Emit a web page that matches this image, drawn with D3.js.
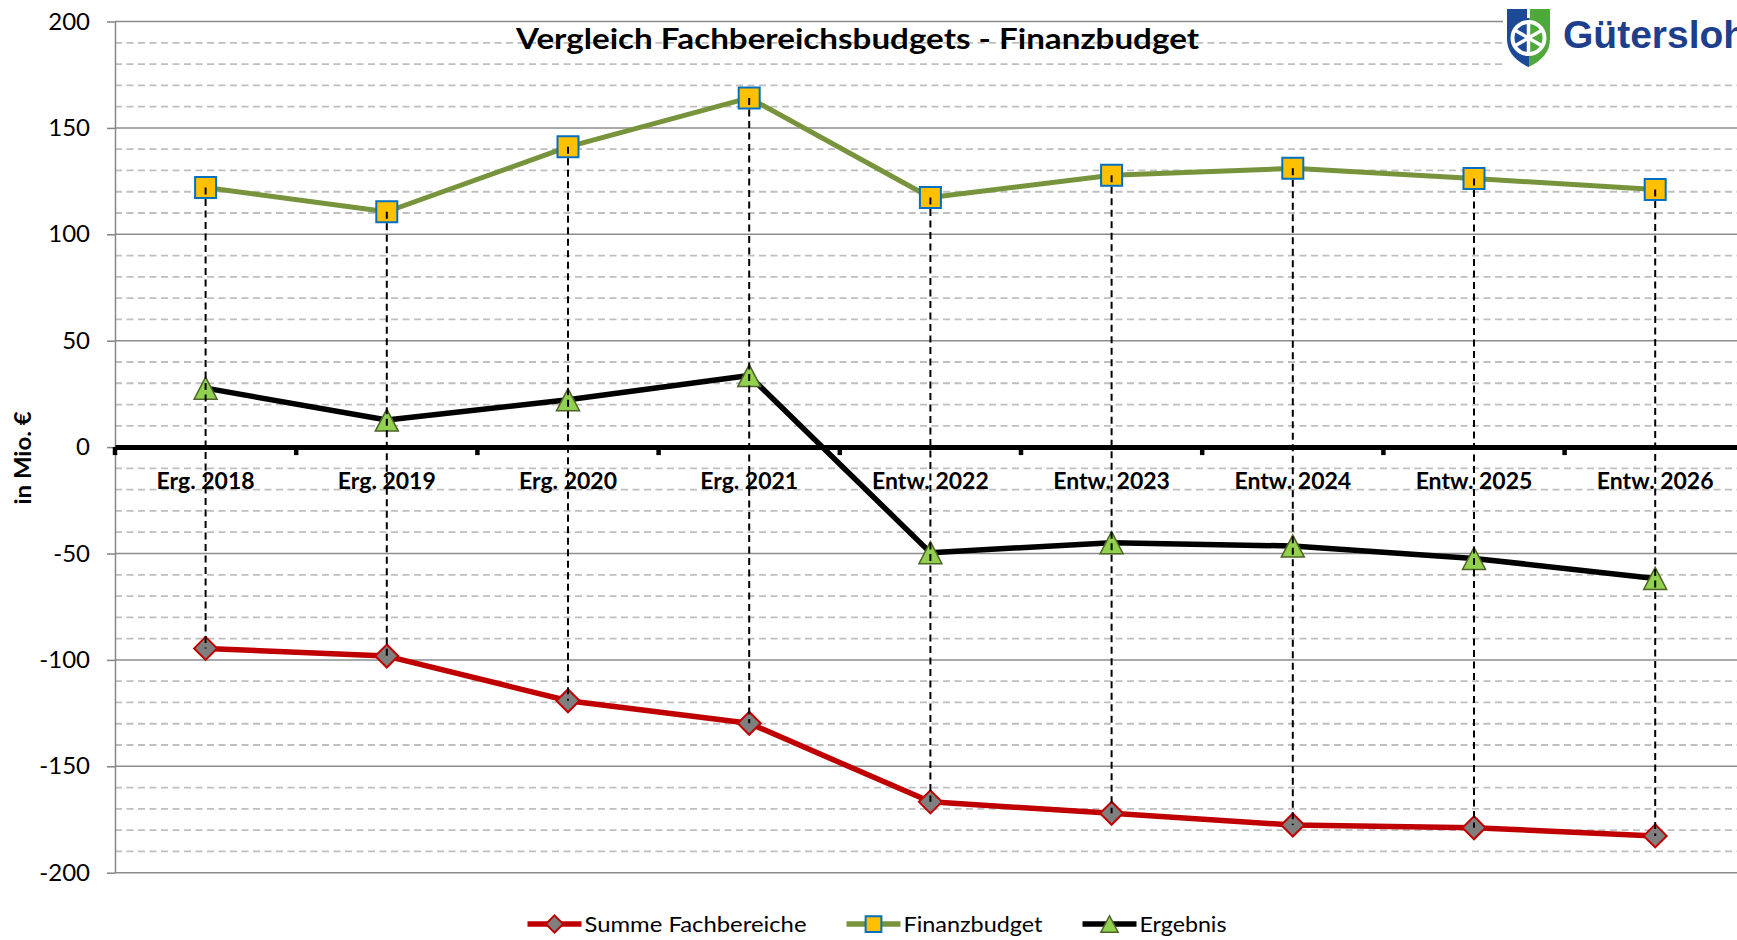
<!DOCTYPE html>
<html>
<head>
<meta charset="utf-8">
<script src="https://cdn.jsdelivr.net/npm/d3@7"></script>
<style>
  body { margin: 0; background: #fff; }
  svg { display: block; font-family: Lato, 'Open Sans', sans-serif; }
</style>
</head>
<body>
<svg width="1737" height="940"></svg>
<script>
/* global d3 */

const categories = ['Erg. 2018', 'Erg. 2019', 'Erg. 2020', 'Erg. 2021', 'Entw. 2022', 'Entw. 2023', 'Entw. 2024', 'Entw. 2025', 'Entw. 2026']
const summeFachbereiche = [-94.6, -98.2, -119.2, -129.8, -166.7, -172.1, -177.6, -178.9, -182.7]
const finanzbudget = [122.0, 110.6, 141.1, 164.1, 117.3, 127.7, 131.0, 126.2, 121.0]
const ergebnis = [27.7, 12.7, 22.3, 33.6, -49.6, -44.9, -46.5, -52.3, -61.7]
const yTickValues = [200, 150, 100, 50, 0, -50, -100, -150, -200]
const titleText = 'Vergleich Fachbereichsbudgets - Finanzbudget'
const yAxisTitle = 'in Mio. €'

const svg = d3.select('svg')
const width = +svg.attr('width')

const plotLeft = 115
const plotTop = 21.5
const plotBottom = 872.7
const bandWidth = 181.2
const plotRight = plotLeft + bandWidth * categories.length

const xScale = d3.scaleBand()
  .domain(categories)
  .range([plotLeft, plotRight])
const xCenter = (c) => xScale(c) + xScale.bandwidth() / 2

const yScale = d3.scaleLinear()
  .domain([-200, 200])
  .range([plotBottom, plotTop])

const series = [
  { name: 'Summe Fachbereiche', values: summeFachbereiche, color: '#C00000', width: 5.5, marker: 'diamond' },
  { name: 'Finanzbudget', values: finanzbudget, color: '#77933C', width: 5, marker: 'square' },
  { name: 'Ergebnis', values: ergebnis, color: '#000000', width: 5.5, marker: 'triangle' }
]

// gridlines
const minorTicks = d3.range(-190, 200, 10).filter(v => v % 50 !== 0)
svg.append('g').selectAll('line').data(minorTicks).join('line')
  .attr('x1', plotLeft).attr('x2', plotRight)
  .attr('y1', d => yScale(d)).attr('y2', d => yScale(d))
  .attr('stroke', '#bfbfbf')
  .attr('stroke-width', 1.8)
  .attr('stroke-dasharray', '7,4.5')

svg.append('g').selectAll('line').data(yTickValues.filter(v => v !== 0)).join('line')
  .attr('x1', plotLeft).attr('x2', plotRight)
  .attr('y1', d => yScale(d)).attr('y2', d => yScale(d))
  .attr('stroke', '#8c8c8c')
  .attr('stroke-width', 1.5)

// y axis
const yAxis = d3.axisLeft(yScale)
  .tickValues(yTickValues)
  .tickFormat(d => String(d))
  .tickSize(8)
  .tickSizeOuter(0)
  .tickPadding(17)

svg.append('g')
  .attr('transform', `translate(${plotLeft},0)`)
  .call(yAxis)
  .call(g => g.select('.domain').attr('stroke', '#868686').attr('stroke-width', 1.5))
  .call(g => g.selectAll('.tick line').attr('stroke', '#868686').attr('stroke-width', 1.5))
  .call(g => g.selectAll('.tick text')
    .attr('font-family', 'Lato, sans-serif')
    .attr('font-size', 24)
    .attr('fill', '#000'))

svg.append('text')
  .attr('transform', `translate(31, 458) rotate(-90)`)
  .attr('text-anchor', 'middle')
  .attr('font-weight', 700)
  .attr('font-size', 23)
  .attr('textLength', 93)
  .attr('lengthAdjust', 'spacingAndGlyphs')
  .text(yAxisTitle)

// category axis on the zero line
const xAxis = d3.axisBottom(xScale)
  .tickSize(0)
  .tickSizeOuter(0)
  .tickPadding(25.5)

svg.append('g')
  .attr('transform', `translate(0,${yScale(0)})`)
  .call(xAxis)
  .call(g => g.select('.domain').attr('stroke', '#000').attr('stroke-width', 5))
  .call(g => g.selectAll('.tick text')
    .attr('font-family', 'Lato, sans-serif')
    .attr('font-weight', 700)
    .attr('font-size', 23)
    .attr('fill', '#000'))

svg.append('g').selectAll('line').data(categories).join('line')
  .attr('x1', d => xScale(d)).attr('x2', d => xScale(d))
  .attr('y1', yScale(0)).attr('y2', yScale(0) + 8)
  .attr('stroke', '#000')
  .attr('stroke-width', 4.5)

// series
const markerPath = {
  diamond: 'M0,-11.5L11.5,0L0,11.5L-11.5,0Z',
  square: 'M-10.5,-10.5H10.5V10.5H-10.5Z',
  triangle: 'M0,-11L11.5,11L-11.5,11Z'
}
const markerStyle = {
  diamond: { fill: '#7F7F7F', stroke: '#C00000', sw: 2 },
  square: { fill: '#FFC000', stroke: '#0070C0', sw: 2 },
  triangle: { fill: '#92D050', stroke: '#4F6228', sw: 1.5 }
}

const line = d3.line()
  .x((d, i) => xCenter(categories[i]))
  .y(d => yScale(d))

series.forEach(s => {
  svg.append('path')
    .datum(s.values)
    .attr('fill', 'none')
    .attr('stroke', s.color)
    .attr('stroke-width', s.width)
    .attr('stroke-linejoin', 'round')
    .attr('d', line)

  const st = markerStyle[s.marker]
  svg.append('g').selectAll('path').data(s.values).join('path')
    .attr('transform', (d, i) => `translate(${xCenter(categories[i])},${yScale(d)})`)
    .attr('d', markerPath[s.marker])
    .attr('fill', st.fill)
    .attr('stroke', st.stroke)
    .attr('stroke-width', st.sw)
})

// high-low drop lines
const ranges = categories.map((c, i) => {
  const vals = series.map(s => s.values[i])
  return { c, hi: d3.max(vals), lo: d3.min(vals) }
})
svg.append('g').selectAll('line').data(ranges).join('line')
  .attr('x1', d => xCenter(d.c)).attr('x2', d => xCenter(d.c))
  .attr('y1', d => yScale(d.hi)).attr('y2', d => yScale(d.lo))
  .attr('stroke', '#000')
  .attr('stroke-width', 2)
  .attr('stroke-dasharray', '7,4.5')

// title
svg.append('text')
  .attr('x', 857.5)
  .attr('y', 49)
  .attr('text-anchor', 'middle')
  .attr('font-weight', 700)
  .attr('font-size', 29)
  .attr('textLength', 683)
  .attr('lengthAdjust', 'spacingAndGlyphs')
  .text(titleText)

// legend
const legend = svg.append('g')
const legendItems = legend.selectAll('g').data(series).join('g')
legendItems.append('text')
  .attr('x', 57)
  .attr('y', 932)
  .attr('font-size', 21)
  .attr('textLength', (d, i) => [222, 139, 87][i])
  .attr('lengthAdjust', 'spacingAndGlyphs')
  .text(d => d.name)
legendItems.append('line')
  .attr('x1', 0).attr('x2', 54)
  .attr('y1', 924).attr('y2', 924)
  .attr('stroke', d => d.color)
  .attr('stroke-width', 5.5)
legendItems.append('path')
  .attr('transform', 'translate(27,924) scale(0.75)')
  .attr('d', d => markerPath[d.marker])
  .attr('fill', d => markerStyle[d.marker].fill)
  .attr('stroke', d => markerStyle[d.marker].stroke)
  .attr('stroke-width', d => markerStyle[d.marker].sw / 0.75)

let lx = 0
const itemX = []
legendItems.each(function () {
  itemX.push(lx)
  lx += 57 + this.querySelector('text').getComputedTextLength() + 40
})
const legendWidth = lx - 40
legendItems.attr('transform', (d, i) => `translate(${877 - legendWidth / 2 + itemX[i]},0)`)

// logo
const logo = svg.append('g')
logo.append('rect')
  .attr('x', 1503).attr('y', 3)
  .attr('width', width - 1503).attr('height', 72)
  .attr('fill', '#fff')

const shield = logo.append('g').attr('transform', 'translate(1507,9)')
const shieldD = 'M0,0H43V30Q43,48 21.5,58Q0,48 0,30Z'
shield.append('clipPath').attr('id', 'shieldClip')
  .append('path').attr('d', shieldD)
const sg = shield.append('g').attr('clip-path', 'url(#shieldClip)')
sg.append('rect').attr('x', 0).attr('y', 0).attr('width', 22).attr('height', 60).attr('fill', '#1C4A96')
sg.append('rect').attr('x', 22).attr('y', 0).attr('width', 22).attr('height', 60).attr('fill', '#4FA83A')
sg.append('circle').attr('cx', 21.5).attr('cy', 29).attr('r', 16)
  .attr('fill', 'none').attr('stroke', '#fff').attr('stroke-width', 4)
;[30, 90, 150].forEach(a => {
  const r = a * Math.PI / 180
  sg.append('line')
    .attr('x1', 21.5 - Math.cos(r) * 16).attr('y1', 29 - Math.sin(r) * 16)
    .attr('x2', 21.5 + Math.cos(r) * 16).attr('y2', 29 + Math.sin(r) * 16)
    .attr('stroke', '#fff').attr('stroke-width', 3.5)
})
sg.append('rect').attr('x', 20).attr('y', 0).attr('width', 3).attr('height', 9).attr('fill', '#fff')

logo.append('text')
  .attr('x', 1563)
  .attr('y', 48)
  .attr('font-family', "'Liberation Sans', Arial, sans-serif")
  .attr('font-weight', 700)
  .attr('font-size', 39)
  .attr('fill', '#1E3F8C')
  .text('Gütersloh')
</script>
</body>
</html>
